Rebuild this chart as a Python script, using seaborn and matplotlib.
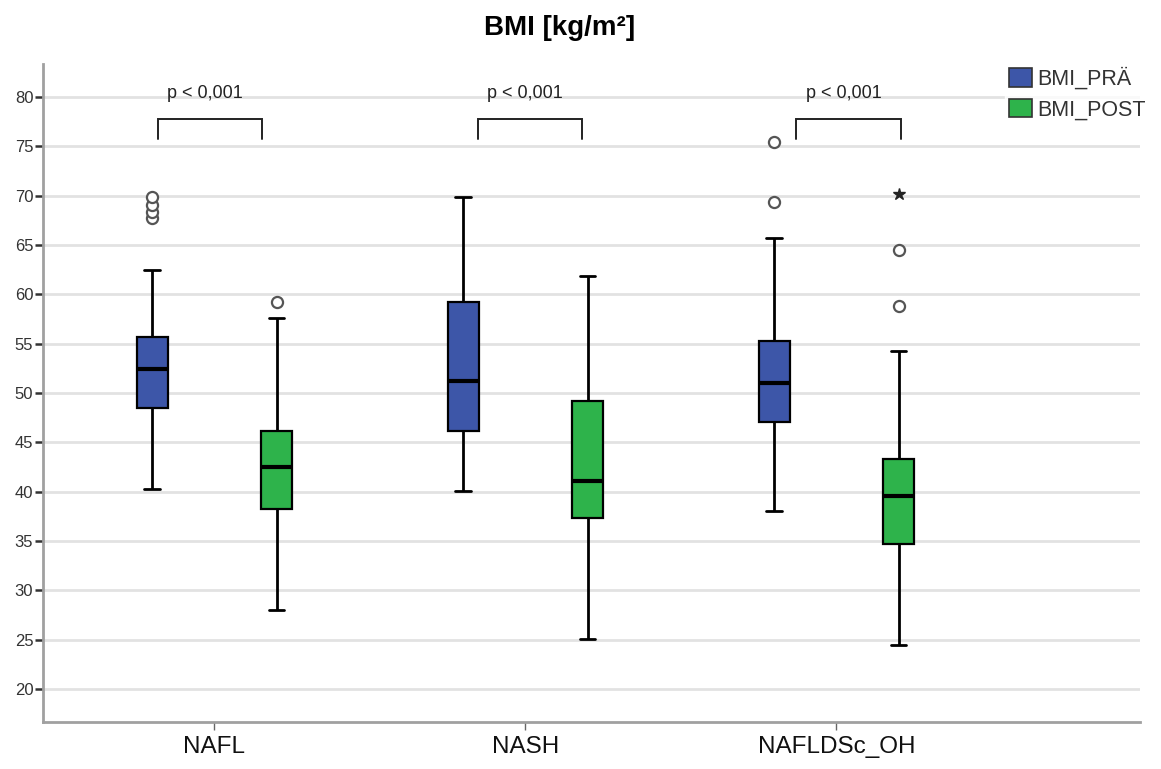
import numpy as np
import pandas as pd
import matplotlib
matplotlib.use("Agg")
import matplotlib.pyplot as plt
from matplotlib.patches import Patch
import seaborn as sns

# ---------------- data ----------------
groups = ["NAFL", "NASH", "NAFLDSc_OH"]
series = ["BMI_PRÄ", "BMI_POST"]

pra_whislo = [40.3, 40.1, 38.0]
pra_q1 = [48.5, 46.2, 47.1]
pra_med = [52.4, 51.2, 51.0]
pra_q3 = [55.7, 59.2, 55.3]
pra_whishi = [62.5, 69.9, 65.7]
pra_outliers = [[67.7, 68.4, 69.1, 69.9], [], [69.4, 75.4]]
pra_extremes = [[], [], []]

post_whislo = [28.0, 25.1, 24.5]
post_q1 = [38.2, 37.3, 34.7]
post_med = [42.5, 41.1, 39.6]
post_q3 = [46.2, 49.2, 43.3]
post_whishi = [57.6, 61.9, 54.3]
post_outliers = [[59.2], [], [58.8, 64.5]]
post_extremes = [[], [], [70.2]]

p_labels = ["p < 0,001", "p < 0,001", "p < 0,001"]

colors = {"BMI_PRÄ": "#3d56a8", "BMI_POST": "#2eb34b"}

# ---------------- build a long table whose box statistics equal the summaries ----------------
def sample_from_summary(lo, q1, med, q3, hi, out):
    k = len(out)
    m = k + 2
    return [lo] + [q1] * (m + k) + [med] + [q3] * m + [hi] + list(out)

rows = []
summ = {
    "BMI_PRÄ": (pra_whislo, pra_q1, pra_med, pra_q3, pra_whishi, pra_outliers),
    "BMI_POST": (post_whislo, post_q1, post_med, post_q3, post_whishi, post_outliers),
}
for s in series:
    lo, q1, med, q3, hi, out = summ[s]
    for i, g in enumerate(groups):
        for v in sample_from_summary(lo[i], q1[i], med[i], q3[i], hi[i], out[i]):
            rows.append({"Gruppe": g, "Variable": s, "BMI": v})
df = pd.DataFrame(rows)

# ---------------- plot ----------------
sns.set_theme(style="white")
plt.rcParams["font.family"] = ["Liberation Sans", "DejaVu Sans"]

fig = plt.figure(figsize=(11.61, 7.69), dpi=100)
ax = fig.add_axes([43 / 1161, 1 - 722 / 769, (1140 - 43) / 1161, (722 - 64) / 769])

ax.yaxis.grid(True, color="#e2e2e2", linewidth=2.0)
ax.set_axisbelow(True)

sns.boxplot(
    data=df, x="Gruppe", y="BMI", hue="Variable", order=groups, hue_order=series,
    palette=colors, width=0.8, gap=0.75, linecolor="black", linewidth=1.6,
    saturation=1, legend=False, ax=ax,
    flierprops=dict(marker="o", markerfacecolor="white", markeredgecolor="#555555",
                    markersize=8, markeredgewidth=1.6),
    medianprops=dict(color="black", linewidth=3.0),
    whiskerprops=dict(color="black", linewidth=2.0),
    capprops=dict(color="black", linewidth=2.0),
)

# extreme values (star markers, SPSS style)
offsets = {"BMI_PRÄ": -0.2, "BMI_POST": 0.2}
for s, ext in (("BMI_PRÄ", pra_extremes), ("BMI_POST", post_extremes)):
    for i, vals in enumerate(ext):
        for v in vals:
            ax.plot(i + offsets[s], v, marker="*", color="#222222", markersize=9, zorder=5)

# significance brackets
bracket_spans = [(-0.182, 0.153), (0.847, 1.182), (1.870, 2.207)]
for (x0, x1), lab in zip(bracket_spans, p_labels):
    ax.plot([x0, x0, x1, x1], [75.7, 77.8, 77.8, 75.7], color="#222222", linewidth=1.4,
            solid_joinstyle="miter")
    ax.text((x0 + x1) / 2 - 0.015, 80.4, lab, ha="center", va="center", fontsize=13,
            color="#222222")

ax.set_xlim(-0.551, 2.976)
ax.set_ylim(16.66, 83.35)
ax.set_yticks(np.arange(20, 81, 5))
ax.set_xlabel("")
ax.set_ylabel("")

for side in ("top", "right"):
    ax.spines[side].set_visible(False)
for side in ("left", "bottom"):
    ax.spines[side].set_color("#a0a0a0")
    ax.spines[side].set_linewidth(2.0)

ax.tick_params(axis="y", which="major", left=True, length=6, width=1.8, color="#333333",
               labelsize=12, labelcolor="#333333", pad=1)
ax.tick_params(axis="x", which="major", bottom=True, length=6, width=1.0, color="#666666",
               labelsize=17.5, labelcolor="#111111", pad=4)

# title
fig.text(0.482, 1 - 28 / 769, "BMI [kg/m²]", ha="center", va="center",
         fontsize=20, fontweight="bold", color="black")

# legend
handles = [Patch(facecolor=colors[s], edgecolor="#333333", linewidth=1.2, label=s) for s in series]
leg = fig.legend(handles=handles, loc="upper left", bbox_to_anchor=(1005 / 1161, 1 - 63 / 769),
                 frameon=True, fontsize=15.5, handlelength=1.05, handleheight=0.95,
                 handletextpad=0.25, labelspacing=0.42, borderpad=0.2, borderaxespad=0)
leg.get_frame().set_facecolor("white")
leg.get_frame().set_edgecolor("white")
for t in leg.get_texts():
    t.set_color("#333333")

fig.savefig("out.png", dpi=100)
